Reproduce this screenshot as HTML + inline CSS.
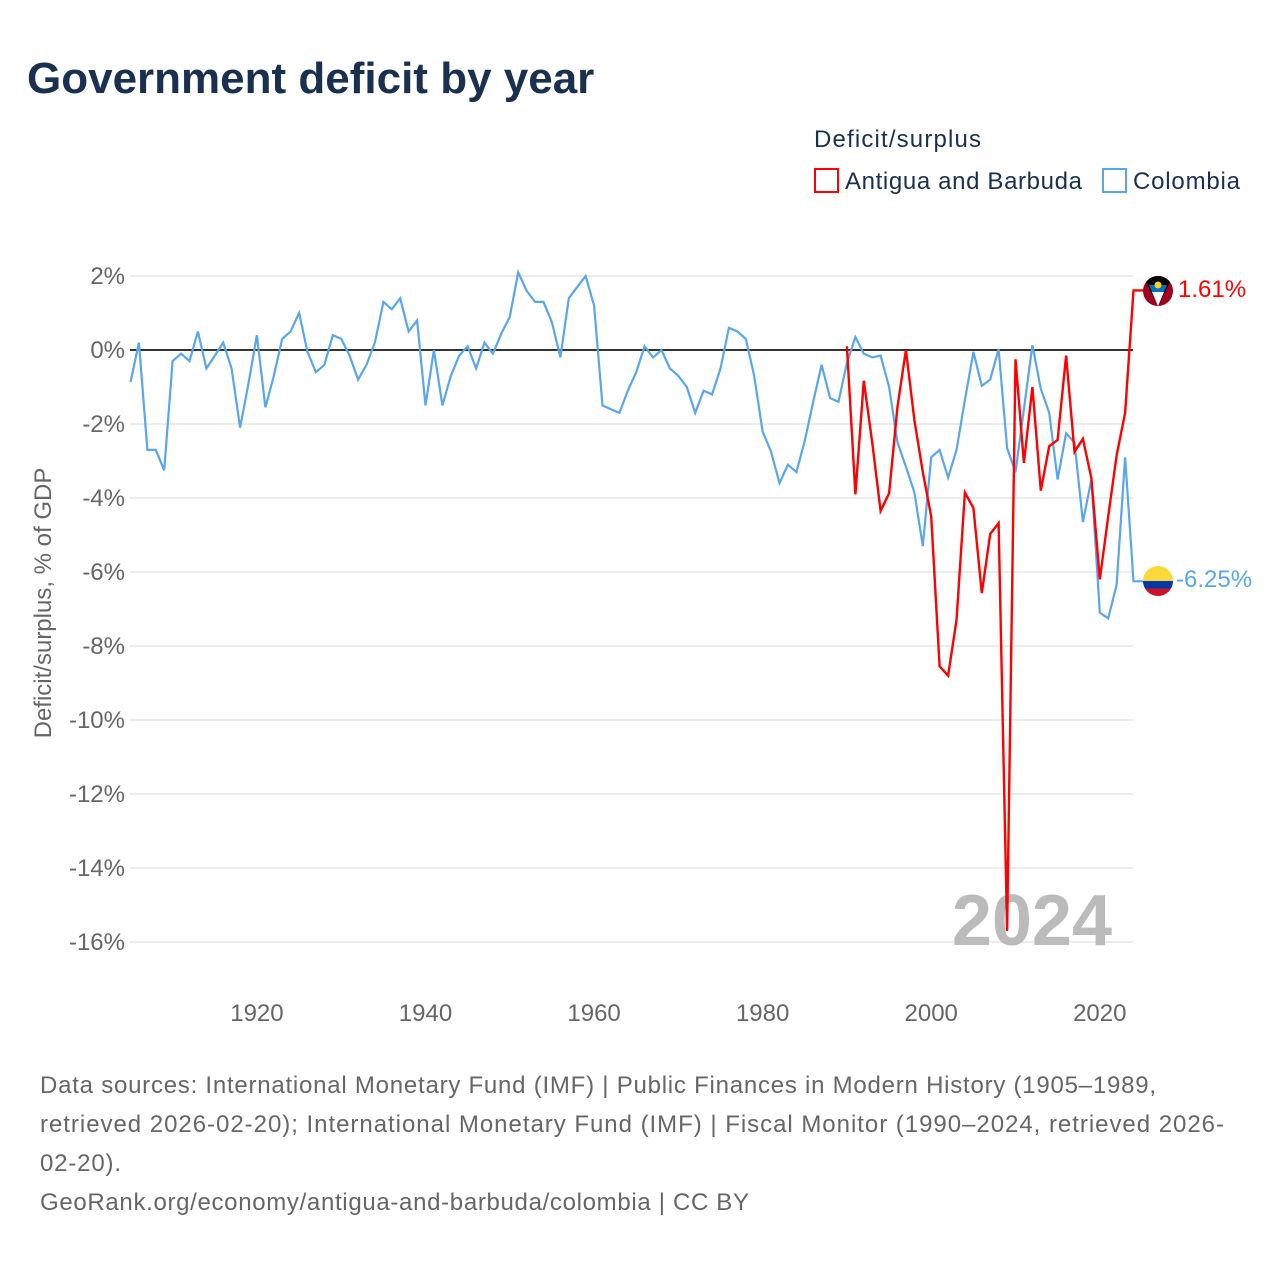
<!DOCTYPE html>
<html><head><meta charset="utf-8"><style>
body{margin:0;background:#fff;font-family:"Liberation Sans",sans-serif}
#c{position:relative;width:1280px;height:1280px;overflow:hidden}
</style></head><body>
<div id="c">
<svg width="1280" height="1280" style="font-family:'Liberation Sans',sans-serif">
<text x="27" y="93" font-size="44" font-weight="bold" fill="#1a3050">Government deficit by year</text>
<text x="814" y="147" font-size="24" fill="#1a3050" textLength="167">Deficit/surplus</text>
<g><rect x="815" y="169" width="23" height="23" fill="none" stroke="#ff0000" stroke-width="2"/><text x="845" y="189" font-size="24" fill="#1a3050" textLength="237">Antigua and Barbuda</text></g>
<g><rect x="1103" y="169" width="23" height="23" fill="none" stroke="#5aa6ee" stroke-width="2"/><text x="1133" y="189" font-size="24" fill="#1a3050" textLength="107">Colombia</text></g>
<g id="grid"></g>
<g id="yt"></g>
<g id="xt"></g>
<text transform="translate(51,603) rotate(-90)" text-anchor="middle" font-size="24" fill="#666">Deficit/surplus, % of GDP</text>
<text x="1112" y="945" text-anchor="end" font-size="72" font-weight="bold" fill="#bbb">2024</text>
<line id="zero" stroke="#333" stroke-width="2"/>
<path id="col" fill="none" stroke="#5aa6ee" stroke-width="2.2"/>
<path id="atg" fill="none" stroke="#ff0000" stroke-width="2.4"/>
<g>
<clipPath id="ca"><circle cx="1158" cy="291" r="15"/></clipPath>
<g clip-path="url(#ca)"><rect x="1143" y="276" width="30" height="30" fill="#a0001e"/><polygon points="1143,276 1173,276 1158,306" fill="#000"/><polygon points="1149,285 1167,285 1158,306" fill="#0072c6"/><polygon points="1152,292 1164,292 1158,306" fill="#fff"/><circle cx="1158" cy="285" r="3.5" fill="#fcd116"/></g></g>
<g>
<clipPath id="cc"><circle cx="1158" cy="581" r="15"/></clipPath>
<g clip-path="url(#cc)"><rect x="1143" y="566" width="30" height="15" fill="#fcd83a"/><rect x="1143" y="581" width="30" height="7.5" fill="#0038a8"/><rect x="1143" y="588.5" width="30" height="8" fill="#ce1126"/></g></g>
<text x="1178" y="297" font-size="24" fill="#ff0000">1.61%</text>
<text x="1176" y="587" font-size="24" fill="#5aa6ee">-6.25%</text>
<text font-size="24" fill="#666"><tspan x="40" y="1093" textLength="1116">Data sources: International Monetary Fund (IMF) | Public Finances in Modern History (1905–1989,</tspan><tspan x="40" y="1132" textLength="1184">retrieved 2026-02-20); International Monetary Fund (IMF) | Fiscal Monitor (1990–2024, retrieved 2026-</tspan><tspan x="40" y="1171" textLength="81">02-20).</tspan><tspan x="40" y="1210" textLength="709">GeoRank.org/economy/antigua-and-barbuda/colombia | CC BY</tspan></text>
</svg></div>
<script>
const colStart = 1905;
const colombia = [-0.87,0.2,-2.7,-2.7,-3.25,-0.3,-0.1,-0.3,0.5,-0.5,-0.15,0.2,-0.5,-2.1,-0.9,0.4,-1.55,-0.7,0.3,0.5,1.0,-0.05,-0.6,-0.4,0.4,0.3,-0.15,-0.8,-0.4,0.2,1.3,1.1,1.4,0.5,0.8,-1.5,0,-1.5,-0.7,-0.15,0.1,-0.5,0.2,-0.1,0.45,0.9,2.1,1.6,1.3,1.3,0.75,-0.2,1.4,1.7,2.0,1.2,-1.5,-1.6,-1.7,-1.1,-0.6,0.1,-0.2,0,-0.5,-0.7,-1.0,-1.7,-1.1,-1.2,-0.5,0.6,0.5,0.3,-0.7,-2.2,-2.75,-3.6,-3.1,-3.3,-2.45,-1.4,-0.4,-1.3,-1.4,-0.35,0.35,-0.1,-0.2,-0.15,-1.0,-2.5,-3.15,-3.85,-5.3,-2.9,-2.7,-3.45,-2.7,-1.35,-0.05,-0.97,-0.8,0.03,-2.65,-3.3,-1.6,0.13,-1.05,-1.7,-3.5,-2.25,-2.5,-4.65,-3.5,-7.1,-7.25,-6.35,-2.9,-6.25];
const atgStart = 1990;
const antigua = [0.1,-3.9,-0.83,-2.5,-4.35,-3.87,-1.53,0,-1.9,-3.3,-4.5,-8.55,-8.8,-7.3,-3.85,-4.27,-6.57,-4.97,-4.68,-15.7,-0.25,-3.05,-1.0,-3.8,-2.6,-2.43,-0.15,-2.75,-2.4,-3.47,-6.2,-4.5,-2.85,-1.7,1.61];
const yTicks = [2,0,-2,-4,-6,-8,-10,-12,-14,-16];
const xTicks = [1920,1940,1960,1980,2000,2020];
const X = y => 130.5 + (y - 1905) * (1133.5 - 130.5) / 119;
const Y = v => 350 - v * 37;
const NS = 'http://www.w3.org/2000/svg';
const grid = document.getElementById('grid'), yt = document.getElementById('yt'), xt = document.getElementById('xt');
yTicks.forEach(t => {
  const l = document.createElementNS(NS, 'line');
  
  
  l.setAttribute('x1', 130); l.setAttribute('x2', 1133); l.setAttribute('y1', Y(t)); l.setAttribute('y2', Y(t));
  l.setAttribute('stroke', '#e6e6e6'); l.setAttribute('stroke-width', 1.5);
  grid.appendChild(l);
  const tx = document.createElementNS(NS, 'text');
  
  
  tx.setAttribute('x', 125); tx.setAttribute('y', Y(t) + 8); tx.setAttribute('text-anchor', 'end');
  tx.setAttribute('font-size', 24); tx.setAttribute('fill', '#666');
  tx.textContent = t + '%';
  yt.appendChild(tx);
});
xTicks.forEach(t => {
  const tx = document.createElementNS(NS, 'text');
  
  
  tx.setAttribute('x', X(t)); tx.setAttribute('y', 1021); tx.setAttribute('text-anchor', 'middle');
  tx.setAttribute('font-size', 24); tx.setAttribute('fill', '#666');
  tx.textContent = t;
  xt.appendChild(tx);
});
const z = document.getElementById('zero');
z.setAttribute('x1', 130); z.setAttribute('x2', 1133); z.setAttribute('y1', Y(0)); z.setAttribute('y2', Y(0));
function path(start, arr) {
  let d = arr.map((v, i) => (i ? 'L' : 'M') + X(start + i).toFixed(1) + ' ' + Y(v).toFixed(1)).join(' ');
  d += ' L' + (X(start + arr.length - 1) + 10).toFixed(1) + ' ' + Y(arr[arr.length - 1]).toFixed(1);
  return d;
}
document.getElementById('col').setAttribute('d', path(colStart, colombia));
document.getElementById('atg').setAttribute('d', path(atgStart, antigua));
</script>
</body></html>
